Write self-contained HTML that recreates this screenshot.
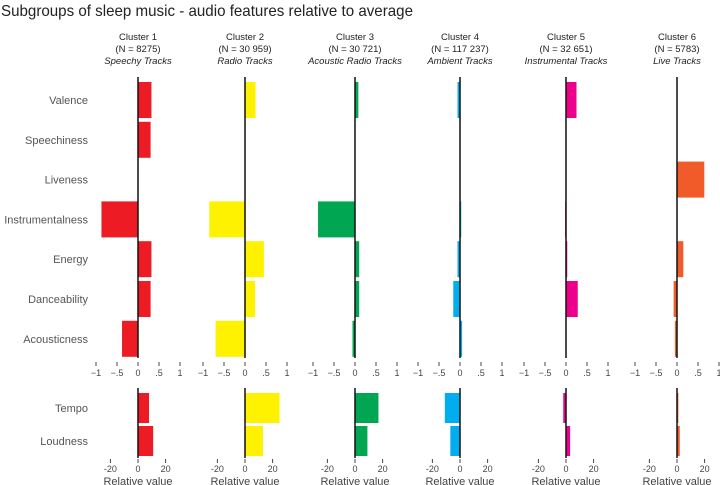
<!DOCTYPE html>
<html><head><meta charset="utf-8"><style>
body{margin:0;background:#fff;}
svg{display:block;font-family:"Liberation Sans",sans-serif;}
</style></head><body>
<svg id="c" width="720" height="485">
<text x="1" y="16" font-size="16" fill="#222" textLength="412" lengthAdjust="spacingAndGlyphs">Subgroups of sleep music - audio features relative to average</text>
</svg>
<script>
const clusters=["Cluster 1","Cluster 2","Cluster 3","Cluster 4","Cluster 5","Cluster 6"];
const counts=["(N = 8275)","(N = 30 959)","(N = 30 721)","(N = 117 237)","(N = 32 651)","(N = 5783)"];
const subtitles=["Speechy Tracks","Radio Tracks","Acoustic Radio Tracks","Ambient Tracks","Instrumental Tracks","Live Tracks"];
const features=["Valence","Speechiness","Liveness","Instrumentalness","Energy","Danceability","Acousticness"];
const features2=["Tempo","Loudness"];
const values=[
[0.32,0.30,0,-0.87,0.32,0.30,-0.38],
[0.25,0,0,-0.85,0.45,0.24,-0.70],
[0.08,0,0,-0.88,0.10,0.10,-0.06],
[-0.06,0,0,0.03,-0.06,-0.16,0.05],
[0.25,0,0,-0.02,0.03,0.28,0],
[0,0,0.65,0,0.15,-0.08,-0.05]];
const values2=[[8,11],[25,13],[17,9],[-11,-7],[-2,3],[1,2]];
const ticks1=[-1,-0.5,0,0.5,1];
const tickLabels1=["−1","−.5","0",".5","1"];
const ticks2=[-20,0,20];
const tickLabels2=["-20","0","20"];
const colors=["#ed1c24","#fff200","#00a651","#00aeef","#ec008c","#f15a29"];
const svg=document.getElementById('c');
const NS="http://www.w3.org/2000/svg";
function mk(t,a,txt){const e=document.createElementNS(NS,t);for(const k in a)e.setAttribute(k,a[k]);if(txt!==undefined)e.textContent=txt;svg.appendChild(e);return e;}
const zeros=[138,245,355,460,566,677];
const k1=42,k2=1.38;
const x1=(c,v)=>zeros[c]+v*k1;
const x2=(c,v)=>zeros[c]+v*k2;
const y1=i=>100+i*39.8;
const y2=i=>408+i*33;
features.forEach((f,i)=>{let t=mk('text',{x:88,y:y1(i)+4,'font-size':11,fill:'#555','text-anchor':'end'},f);

});
features2.forEach((f,i)=>{let t=mk('text',{x:88,y:y2(i)+4,'font-size':11,fill:'#555','text-anchor':'end'},f);

});
clusters.forEach((c,ci)=>{
 const z=zeros[ci];
 let h=mk('text',{x:z,y:40,'font-size':9.5,fill:'#222','text-anchor':'middle'},c);
 
 
 h=mk('text',{x:z,y:52,'font-size':9.5,fill:'#222','text-anchor':'middle'},counts[ci]);
 
 
 h=mk('text',{x:z,y:64,'font-size':9.5,fill:'#222','text-anchor':'middle','font-style':'italic'},subtitles[ci]);
 
 
 values[ci].forEach((v,i)=>{if(v===0)return;const a=x1(ci,0),b=x1(ci,v);
  const r=mk('rect',{x:Math.min(a,b),y:y1(i)-18,width:Math.abs(b-a),height:36,fill:colors[ci]});
  
  });
 values2[ci].forEach((v,i)=>{if(v===0)return;const a=x2(ci,0),b=x2(ci,v);
  const r=mk('rect',{x:Math.min(a,b),y:y2(i)-15,width:Math.abs(b-a),height:30,fill:colors[ci]});
  
  });
 let l=mk('line',{x1:z,x2:z,y1:77,y2:358,stroke:'#111','stroke-width':1.5});
 
 
 l=mk('line',{x1:z,x2:z,y1:388,y2:458,stroke:'#111','stroke-width':1.5});
 
 
 ticks1.forEach((t,ti)=>{const x=x1(ci,t);mk('line',{x1:x,x2:x,y1:362,y2:366,stroke:'#444'});
  const tx=mk('text',{x:x,y:376,'font-size':9,fill:'#444','text-anchor':'middle'},tickLabels1[ti]);
  
  });
 ticks2.forEach((t,ti)=>{const x=x2(ci,t);mk('line',{x1:x,x2:x,y1:459,y2:463,stroke:'#444'});
  const tx=mk('text',{x:x,y:472,'font-size':9,fill:'#444','text-anchor':'middle'},tickLabels2[ti]);
  
  });
 const at=mk('text',{x:z,y:485,'font-size':11,fill:'#444','text-anchor':'middle'},'Relative value');
 
 
});
</script>
</body></html>
